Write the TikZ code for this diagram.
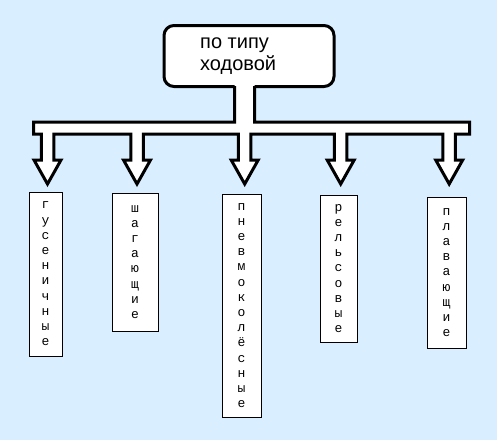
\documentclass[tikz,border=0pt]{standalone}
\usepackage{fontspec}
\setmainfont{Liberation Sans}
\newfontfamily\boxfont{Liberation Mono}
\definecolor{bgblue}{RGB}{217,238,255}
\tikzset{
  conn/.style={draw=black, line width=3pt, line join=miter},
  topbox/.style={draw=black, fill=white, line width=3pt, rounded corners=10pt, minimum width=170pt, minimum height=61pt, inner sep=0pt},
  toptext/.style={font=\fontsize{20}{22}\selectfont, align=left, inner sep=0pt, anchor=north west},
  tbox/.style={draw=black, fill=white, line width=0.9pt, inner sep=0pt, align=center, font=\boxfont\fontsize{13}{15.2}\selectfont},
}
\begin{document}
\begin{tikzpicture}[x=1pt,y=-1pt]
\fill[bgblue] (0,0) rectangle (497,440);
\useasboundingbox (0,0) rectangle (497,440);
\node[topbox] (top) at (249,56) {};
\node[toptext] (tt) at (200,38) {по типу\\ходовой};
\fill[white] (234.5,84) -- (234.5,122) -- (33.5,122) -- (33.5,134)
  \foreach \c in {47.5,137,244.7,340.7,449.2} {
   -- ({\c-6.25},134) -- ({\c-6.25},160) -- ({\c-13.5},160) -- (\c,184) -- ({\c+13.5},160) -- ({\c+6.25},160) -- ({\c+6.25},134)}
  -- (469.5,134) -- (469.5,122) -- (254.5,122) -- (254.5,84) -- cycle;
\draw[conn] (234.5,86) -- (234.5,122) -- (33.5,122) -- (33.5,134)
  \foreach \c in {47.5,137,244.7,340.7,449.2} {
   -- ({\c-6.25},134) -- ({\c-6.25},160) -- ({\c-13.5},160) -- (\c,184) -- ({\c+13.5},160) -- ({\c+6.25},160) -- ({\c+6.25},134)}
  -- (469.5,134) -- (469.5,122) -- (254.5,122) -- (254.5,86);
\node[tbox, minimum width=33pt, minimum height=164pt] (b1) at (45.5,274) {г\\у\\с\\е\\н\\и\\ч\\н\\ы\\е};
\node[tbox, minimum width=46pt, minimum height=138pt] (b2) at (135,262) {ш\\а\\г\\а\\ю\\щ\\и\\е};
\node[tbox, minimum width=39pt, minimum height=223pt] (b3) at (241.5,305.5) {п\\н\\е\\в\\м\\о\\к\\о\\л\\ё\\с\\н\\ы\\е};
\node[tbox, minimum width=37pt, minimum height=147pt] (b4) at (338.5,268.5) {р\\е\\л\\ь\\с\\о\\в\\ы\\е};
\node[tbox, minimum width=39pt, minimum height=151pt] (b5) at (446.5,272.5) {п\\л\\а\\в\\а\\ю\\щ\\и\\е};
\end{tikzpicture}
\end{document}
